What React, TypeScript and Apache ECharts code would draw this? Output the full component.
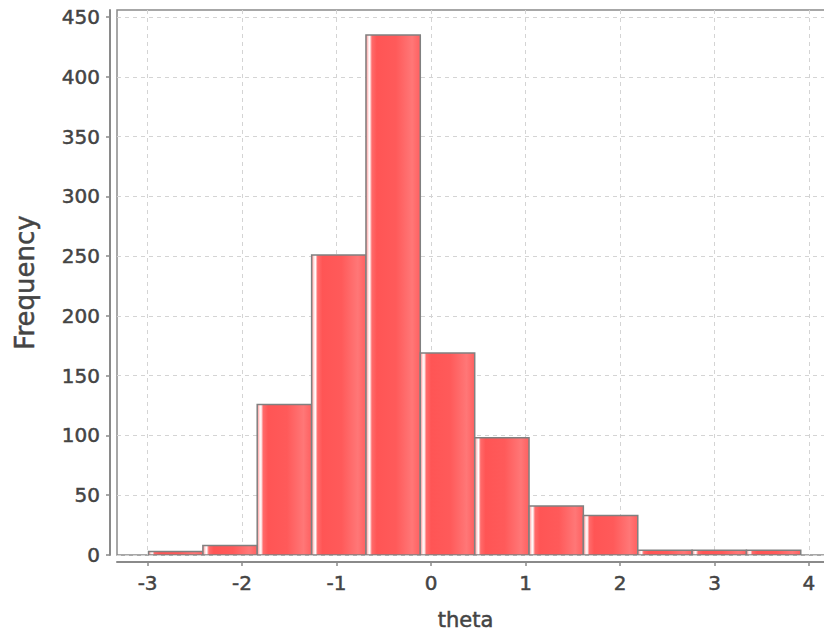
import React, { useEffect, useRef } from "react";
import * as echarts from "echarts";

// Histogram bin edges (theta) and frequencies
const binEdges = [-2.99, -2.415, -1.84, -1.264, -0.689, -0.114, 0.462, 1.037, 1.612, 2.188, 2.763, 3.338, 3.913];
const counts = [3, 8, 126, 251, 435, 169, 98, 41, 33, 4, 4, 4];
const xTicks = [-3, -2, -1, 0, 1, 2, 3, 4];
const yTicks = [0, 50, 100, 150, 200, 250, 300, 350, 400, 450];
const xAxisName = "theta";
const yAxisName = "Frequency";

export default function App() {
  const ref = useRef<HTMLDivElement>(null);

  useEffect(() => {
    document.body.style.margin = "0";
    if (!ref.current) return;
    const chart = echarts.init(ref.current, null, { renderer: "svg" });

    const data = counts.map((c, i) => [binEdges[i], binEdges[i + 1], c]);
    const fill = new echarts.graphic.LinearGradient(0, 0, 1, 0, [
      { offset: 0, color: "#ff8080" },
      { offset: 0.04, color: "#ffdede" },
      { offset: 0.07, color: "#ffffff" },
      { offset: 0.11, color: "#ff6a6a" },
      { offset: 0.2, color: "#ff5555" },
      { offset: 0.55, color: "#ff5a5a" },
      { offset: 0.85, color: "#ff7777" },
      { offset: 1, color: "#ff6060" },
    ]);

    const font = "DejaVu Sans";
    const txt = {
      fontFamily: font,
      color: "#444444",
      textBorderColor: "#444444",
      textBorderWidth: 0.5,
    };
    chart.setOption({
      animation: false,
      backgroundColor: "#ffffff",
      grid: {
        left: 117,
        top: 10,
        right: -12,
        bottom: 80,
        show: true,
        borderColor: "#8a8a8a",
        borderWidth: 1.5,
        backgroundColor: "#ffffff",
        containLabel: false,
        outerBoundsMode: "none",
      },
      xAxis: {
        type: "value",
        min: -3.324,
        max: 4.286,
        offset: 7,
        name: xAxisName,
        nameLocation: "middle",
        nameGap: 47,
        nameTextStyle: { ...txt, fontSize: 21, padding: [0, 22, 0, 0] },
        axisLine: { show: true, onZero: false, lineStyle: { color: "#8a8a8a", width: 2 } },
        axisTick: { show: true, length: 4, lineStyle: { color: "#8a8a8a", width: 1.5 }, customValues: xTicks },
        axisLabel: { ...txt, fontSize: 20, margin: 11, customValues: xTicks },
        splitLine: { show: true, lineStyle: { color: "#d4d4d4", type: [4, 4], width: 1 } },
      },
      yAxis: {
        type: "value",
        min: 0,
        max: 456,
        offset: 7,
        name: yAxisName,
        nameLocation: "middle",
        nameGap: 72,
        nameTextStyle: { ...txt, fontSize: 26 },
        axisLine: { show: true, onZero: false, lineStyle: { color: "#8a8a8a", width: 2 } },
        axisTick: { show: true, length: 4, lineStyle: { color: "#8a8a8a", width: 1.5 }, customValues: yTicks },
        axisLabel: { ...txt, fontSize: 20, margin: 10, customValues: yTicks },
        splitLine: { show: true, lineStyle: { color: "#d4d4d4", type: [4, 4], width: 1 } },
      },
      series: [
        {
          type: "custom",
          encode: { x: [0, 1], y: 2 },
          data,
          clip: true,
          renderItem: (params: any, api: any) => {
            const x0 = api.value(0);
            const x1 = api.value(1);
            const v = api.value(2);
            const pTop = api.coord([x0, v]);
            const pBot = api.coord([x1, 0]);
            return {
              type: "rect",
              shape: {
                x: pTop[0],
                y: pTop[1],
                width: pBot[0] - pTop[0],
                height: pBot[1] - pTop[1],
              },
              style: { fill, stroke: "#808080", lineWidth: 1.5 },
            };
          },
        },
      ],
    });

    return () => {
      chart.dispose();
    };
  }, []);

  return <div ref={ref} style={{ width: 824, height: 635 }} />;
}
